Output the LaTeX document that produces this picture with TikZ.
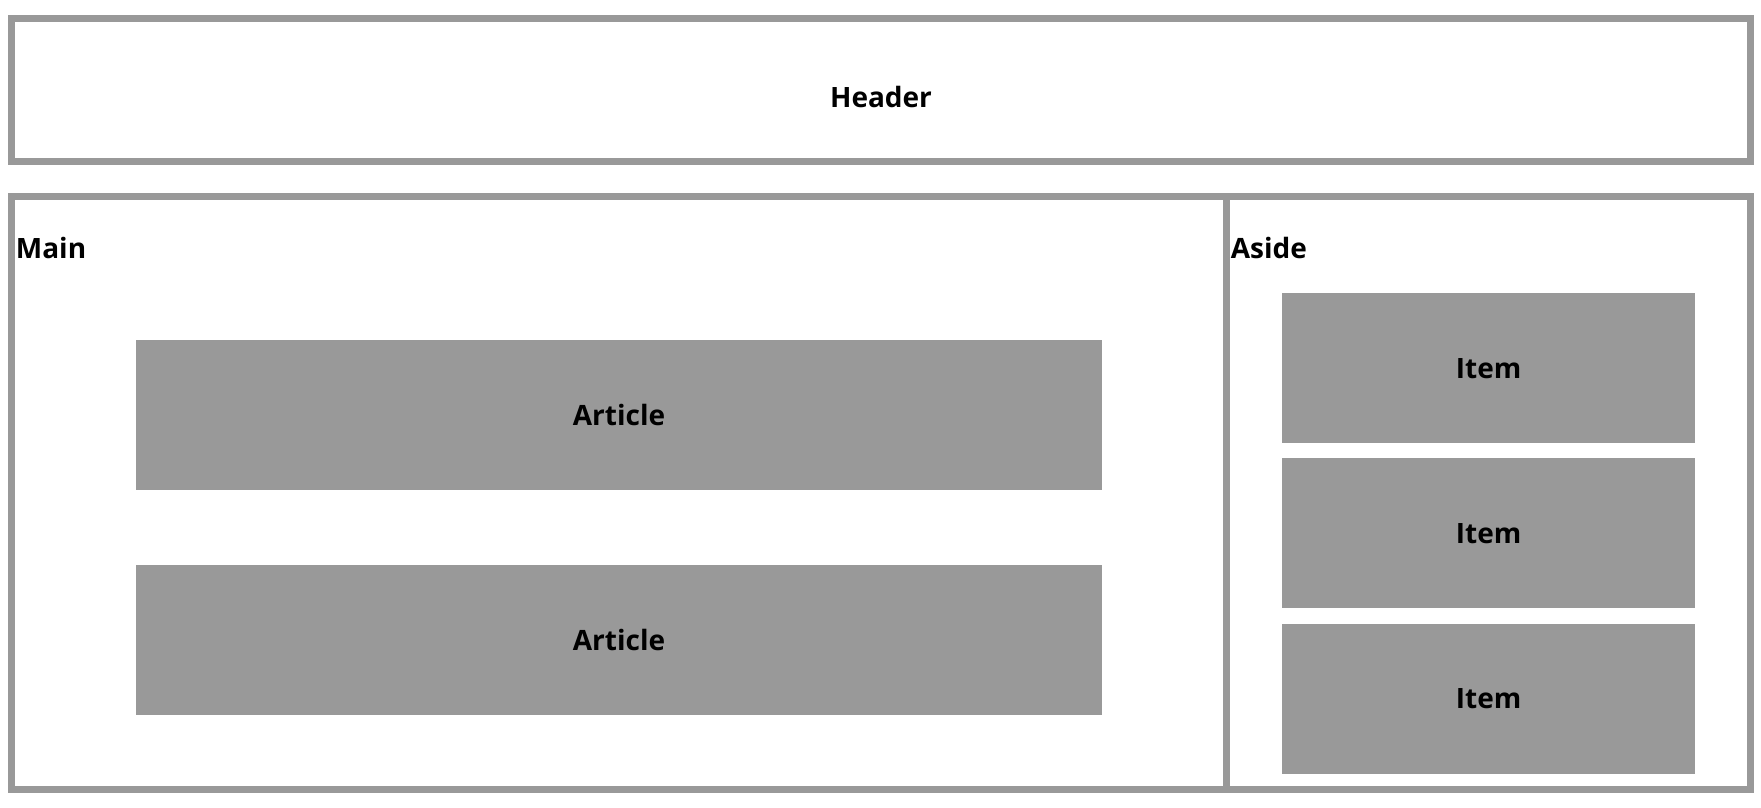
\documentclass[tikz,border=0pt]{standalone}
\usepackage{fontspec}
\setmainfont{Open Sans}
\usetikzlibrary{positioning}
\definecolor{boxgray}{HTML}{999999}
\tikzset{
  frame/.style={draw=boxgray, line width=6.7pt},
  lbl/.style={inner sep=0pt, font=\bfseries\fontsize{28}{34}\selectfont},
  block/.style={lbl, fill=boxgray, text height=20pt, text depth=0pt},
}

\begin{document}
\begin{tikzpicture}[x=1pt,y=-1pt]
\useasboundingbox (0,0) rectangle (1761,808);
% header
\draw[frame] (11.35,18.35) rectangle (1750.65,161.15);
\node[lbl, anchor=base] (header) at (881,107.7) {Header};
% main and aside
\draw[frame] (11.35,196.65) rectangle (1750.65,789.35);
\draw[frame] (1226.65,196.65) -- (1226.65,789.35);
\node[lbl, anchor=base west] (main) at (15.7,258) {Main};
\node[lbl, anchor=base west] (aside) at (1230.7,258) {Aside};
\node[block, minimum width=966pt, minimum height=150pt] (article1) at (619,415) {Article};
\node[block, minimum width=966pt, minimum height=150pt, below=75pt of article1] (article2) {Article};
\node[block, minimum width=413pt, minimum height=150pt] (item1) at (1488.6,368) {Item};
\node[block, minimum width=413pt, minimum height=150pt, below=15pt of item1] (item2) {Item};
\node[block, minimum width=413pt, minimum height=150pt, below=15pt of item2] (item3) {Item};
\end{tikzpicture}
\end{document}
